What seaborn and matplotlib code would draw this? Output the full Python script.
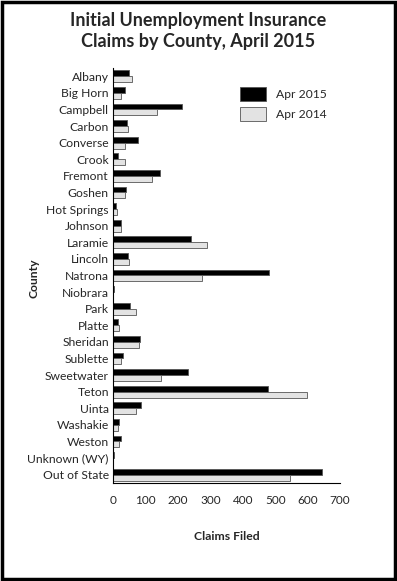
import pandas as pd
import seaborn as sns
import matplotlib.pyplot as plt
from matplotlib.patches import Rectangle

counties = ['Albany', 'Big Horn', 'Campbell', 'Carbon', 'Converse', 'Crook',
            'Fremont', 'Goshen', 'Hot Springs', 'Johnson', 'Laramie', 'Lincoln',
            'Natrona', 'Niobrara', 'Park', 'Platte', 'Sheridan', 'Sublette',
            'Sweetwater', 'Teton', 'Uinta', 'Washakie', 'Weston',
            'Unknown (WY)', 'Out of State']
claims_2015 = [49, 36, 212, 43, 77, 15, 144, 41, 8, 26, 240, 46, 481, 2,
               54, 16, 82, 30, 232, 478, 87, 18, 24, 2, 646]
claims_2014 = [59, 25, 137, 46, 37, 37, 120, 37, 12, 25, 290, 49, 274, 1,
               71, 18, 80, 26, 149, 597, 71, 15, 18, 1, 546]
periods = ['Apr 2015', 'Apr 2014']
x_ticks = [0, 100, 200, 300, 400, 500, 600, 700]

df = pd.DataFrame({
    'County': counties * 2,
    'Claims': claims_2015 + claims_2014,
    'Period': [periods[0]] * len(counties) + [periods[1]] * len(counties),
})

sns.set_style('white')
plt.rcParams['font.family'] = ['Lato', 'DejaVu Sans']

fig = plt.figure(figsize=(3.97, 5.81), dpi=100)
ax = fig.add_axes([0.2846, 0.1687, 0.5718, 0.7143])

colors = {'Apr 2015': '#000000', 'Apr 2014': '#e3e3e3'}
sns.barplot(data=df, y='County', x='Claims', hue='Period', palette=colors,
            orient='h', width=0.72, edgecolor='#555555', linewidth=0.6,
            ax=ax, legend=False)

ax.set_xlim(0, 700)
ax.set_xticks(x_ticks)
ax.tick_params(axis='x', direction='in', length=7, width=0.8, color='black',
               labelsize=8.5, pad=9)
ax.tick_params(axis='y', length=0, labelsize=8.7, pad=3)
for s in ['top', 'right']:
    ax.spines[s].set_visible(False)
for s in ['left', 'bottom']:
    ax.spines[s].set_color('black')
    ax.spines[s].set_linewidth(0.8)

ax.set_ylabel('County', fontsize=8.7, fontweight='bold')
ax.yaxis.set_label_coords(-0.325, 0.494)
ax.set_xlabel('Claims Filed', fontsize=8.8, fontweight='bold')
ax.xaxis.set_label_coords(0.5, -0.115)

fig.suptitle('Initial Unemployment Insurance\nClaims by County, April 2015',
             fontsize=13, fontweight='bold', y=0.979, linespacing=1.3)

handles = [Rectangle((0, 0), 1, 1, facecolor=colors[p], edgecolor='#555555',
                     linewidth=0.6) for p in periods]
ax.legend(handles, periods, loc='upper left', bbox_to_anchor=(0.51, 0.98),
          frameon=False, fontsize=8.7, handlelength=2.2, handleheight=1.4,
          handletextpad=0.8, labelspacing=0.5)

fig.patches.append(Rectangle((0.004, 0.003), 0.992, 0.994,
                             transform=fig.transFigure, fill=False,
                             edgecolor='black', linewidth=2.5))

fig.savefig('out.png', dpi=100)
